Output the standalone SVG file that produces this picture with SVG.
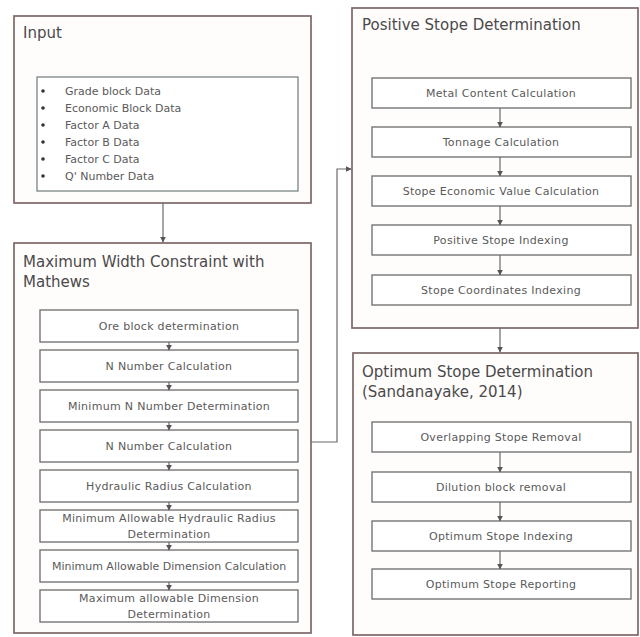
<svg xmlns="http://www.w3.org/2000/svg" width="640" height="637" viewBox="0 0 640 637">
<defs>
<style>
.outer{fill:#fffcfc;stroke:#7d6868;stroke-width:1.7}
.inner{fill:#ffffff;stroke:#767676;stroke-width:1.4}
.list{fill:#ffffff;stroke:#6f7a7a;stroke-width:1.2}
.title{font-family:"DejaVu Sans",sans-serif;font-size:15px;fill:#4a4a4a}
.lbl{font-family:"DejaVu Sans",sans-serif;font-size:11px;letter-spacing:0.3px;fill:#5a5a5a;text-anchor:middle}
.bl{font-family:"DejaVu Sans",sans-serif;font-size:11px;fill:#5a5a5a}
.con{fill:none;stroke:#6a6a6a;stroke-width:1.2}
</style>
<marker id="ah" viewBox="0 0 10 10" refX="9" refY="5" markerWidth="6" markerHeight="6" orient="auto" markerUnits="userSpaceOnUse">
<path d="M0,0 L10,5 L0,10 z" fill="#555"/>
</marker>
</defs>
<rect width="640" height="637" fill="#ffffff"/>

<g id="input">
<rect class="outer" x="14" y="16" width="297" height="187"/>
<text class="title" x="23" y="38">Input</text>
<rect class="list" x="37" y="77" width="261" height="114"/>
<g fill="#333">
<circle cx="43" cy="91" r="1.8"/><circle cx="43" cy="108" r="1.8"/><circle cx="43" cy="125" r="1.8"/>
<circle cx="43" cy="142" r="1.8"/><circle cx="43" cy="159" r="1.8"/><circle cx="43" cy="176" r="1.8"/>
</g>
<text class="bl" x="65" y="95">Grade block Data</text>
<text class="bl" x="65" y="112">Economic Block Data</text>
<text class="bl" x="65" y="129">Factor A Data</text>
<text class="bl" x="65" y="146">Factor B Data</text>
<text class="bl" x="65" y="163">Factor C Data</text>
<text class="bl" x="65" y="180">Q' Number Data</text>
</g>

<g id="maxwidth">
<rect class="outer" x="14" y="243" width="297" height="390"/>
<text class="title" x="23" y="267">Maximum Width Constraint with</text>
<text class="title" x="23" y="287">Mathews</text>
</g>
<g id="m1"><rect class="inner" x="40" y="310" width="258" height="32"/><text class="lbl" x="169" y="330">Ore block determination</text></g>
<g id="m2"><rect class="inner" x="40" y="350" width="258" height="32"/><text class="lbl" x="169" y="370">N Number Calculation</text></g>
<g id="m3"><rect class="inner" x="40" y="390" width="258" height="32"/><text class="lbl" x="169" y="410">Minimum N Number Determination</text></g>
<g id="m4"><rect class="inner" x="40" y="430" width="258" height="32"/><text class="lbl" x="169" y="450">N Number Calculation</text></g>
<g id="m5"><rect class="inner" x="40" y="470" width="258" height="32"/><text class="lbl" x="169" y="490">Hydraulic Radius Calculation</text></g>
<g id="m6"><rect class="inner" x="40" y="510" width="258" height="32"/><text class="lbl" x="169" y="522">Minimum Allowable Hydraulic Radius</text><text class="lbl" x="169" y="538">Determination</text></g>
<g id="m7"><rect class="inner" x="40" y="550" width="258" height="32"/><text class="lbl" x="169" y="570" style="letter-spacing:0px">Minimum Allowable Dimension Calculation</text></g>
<g id="m8"><rect class="inner" x="40" y="590" width="258" height="32"/><text class="lbl" x="169" y="602">Maximum allowable Dimension</text><text class="lbl" x="169" y="618">Determination</text></g>

<g id="positive">
<rect class="outer" x="352" y="8" width="286" height="320"/>
<text class="title" x="362" y="30">Positive Stope Determination</text>
</g>
<g id="p1"><rect class="inner" x="372" y="78" width="259" height="30"/><text class="lbl" x="501" y="97">Metal Content Calculation</text></g>
<g id="p2"><rect class="inner" x="372" y="127" width="259" height="30"/><text class="lbl" x="501" y="146">Tonnage Calculation</text></g>
<g id="p3"><rect class="inner" x="372" y="176" width="259" height="30"/><text class="lbl" x="501" y="195">Stope Economic Value Calculation</text></g>
<g id="p4"><rect class="inner" x="372" y="225" width="259" height="30"/><text class="lbl" x="501" y="244">Positive Stope Indexing</text></g>
<g id="p5"><rect class="inner" x="372" y="275" width="259" height="30"/><text class="lbl" x="501" y="294">Stope Coordinates Indexing</text></g>

<g id="optimum">
<rect class="outer" x="353" y="353" width="285" height="282"/>
<text class="title" x="362" y="377">Optimum Stope Determination</text>
<text class="title" x="362" y="397">(Sandanayake, 2014)</text>
</g>
<g id="o1"><rect class="inner" x="372" y="422" width="259" height="30"/><text class="lbl" x="501" y="441">Overlapping Stope Removal</text></g>
<g id="o2"><rect class="inner" x="372" y="472" width="259" height="30"/><text class="lbl" x="501" y="491">Dilution block removal</text></g>
<g id="o3"><rect class="inner" x="372" y="521" width="259" height="30"/><text class="lbl" x="501" y="540">Optimum Stope Indexing</text></g>
<g id="o4"><rect class="inner" x="372" y="569" width="259" height="30"/><text class="lbl" x="501" y="588">Optimum Stope Reporting</text></g>

<g id="connectors">
<line class="con" x1="163" y1="203" x2="163" y2="242" marker-end="url(#ah)"/>
<line class="con" x1="169" y1="342" x2="169" y2="350" marker-end="url(#ah)"/>
<line class="con" x1="169" y1="382" x2="169" y2="390" marker-end="url(#ah)"/>
<line class="con" x1="169" y1="422" x2="169" y2="430" marker-end="url(#ah)"/>
<line class="con" x1="169" y1="462" x2="169" y2="470" marker-end="url(#ah)"/>
<line class="con" x1="169" y1="502" x2="169" y2="510" marker-end="url(#ah)"/>
<line class="con" x1="169" y1="542" x2="169" y2="550" marker-end="url(#ah)"/>
<line class="con" x1="169" y1="582" x2="169" y2="590" marker-end="url(#ah)"/>
<path class="con" d="M311,442 H337 V169 H351" marker-end="url(#ah)"/>
<line class="con" x1="500" y1="108" x2="500" y2="127" marker-end="url(#ah)"/>
<line class="con" x1="500" y1="157" x2="500" y2="176" marker-end="url(#ah)"/>
<line class="con" x1="500" y1="206" x2="500" y2="225" marker-end="url(#ah)"/>
<line class="con" x1="500" y1="255" x2="500" y2="275" marker-end="url(#ah)"/>
<line class="con" x1="500" y1="328" x2="500" y2="352" marker-end="url(#ah)"/>
<line class="con" x1="500" y1="452" x2="500" y2="472" marker-end="url(#ah)"/>
<line class="con" x1="500" y1="502" x2="500" y2="521" marker-end="url(#ah)"/>
<line class="con" x1="500" y1="551" x2="500" y2="569" marker-end="url(#ah)"/>
</g>
</svg>
